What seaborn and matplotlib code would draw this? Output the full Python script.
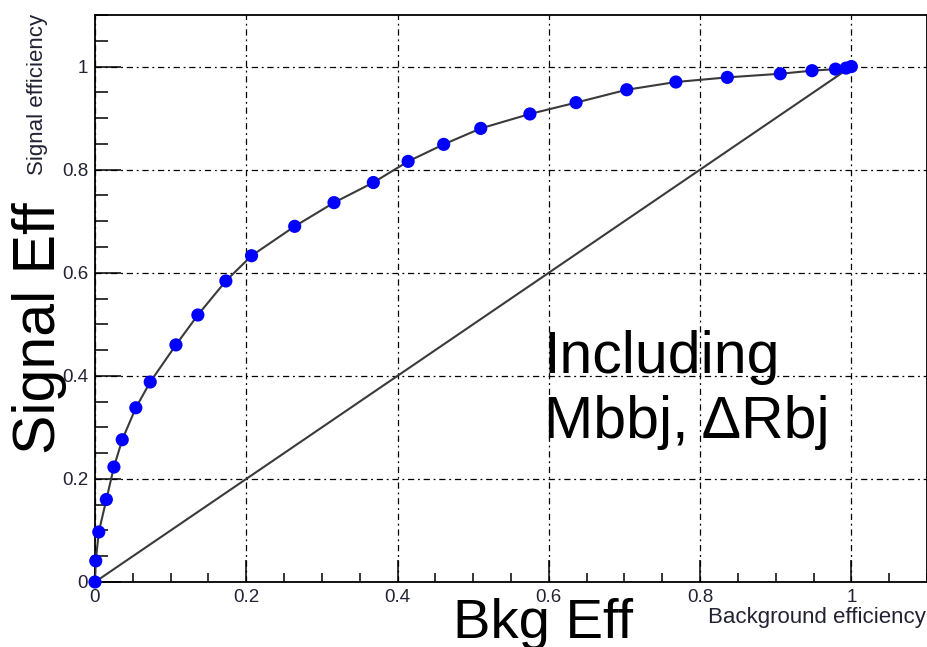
import matplotlib
matplotlib.use("Agg")
import matplotlib.pyplot as plt
from matplotlib.ticker import MultipleLocator, FuncFormatter
import seaborn as sns
import pandas as pd

# ROC points: background efficiency vs signal efficiency
bkg_eff = [0.0, 0.001, 0.005, 0.015, 0.025, 0.036, 0.054, 0.073, 0.107, 0.136,
           0.173, 0.207, 0.264, 0.316, 0.368, 0.414, 0.461, 0.510, 0.575, 0.636,
           0.703, 0.768, 0.836, 0.906, 0.948, 0.979, 0.993, 1.0]
sig_eff = [0.0, 0.041, 0.097, 0.160, 0.223, 0.276, 0.338, 0.388, 0.460, 0.518,
           0.584, 0.633, 0.690, 0.736, 0.775, 0.816, 0.849, 0.880, 0.908, 0.930,
           0.955, 0.970, 0.979, 0.986, 0.992, 0.995, 0.997, 1.0]

# random-guess reference line
diag_x = [0.0, 1.0]
diag_y = [0.0, 1.0]

major_ticks = [0.0, 0.2, 0.4, 0.6, 0.8, 1.0]

sns.set_theme(style="white")
plt.rcParams["font.family"] = ["Liberation Sans", "DejaVu Sans"]

W, H = 928, 647
fig = plt.figure(figsize=(W / 100, H / 100), dpi=100)
ax = fig.add_axes([95 / W, 65 / H, 832 / W, 567 / H])

roc = pd.DataFrame({"bkg": bkg_eff, "sig": sig_eff})
diag = pd.DataFrame({"bkg": diag_x, "sig": diag_y})

sns.lineplot(data=diag, x="bkg", y="sig", ax=ax, color="#3a3a3a", lw=1.5,
             sort=False, estimator=None, zorder=3)
sns.lineplot(data=roc, x="bkg", y="sig", ax=ax, color="#3a3a3a", lw=1.5,
             sort=False, estimator=None, zorder=3)
sns.scatterplot(data=roc, x="bkg", y="sig", ax=ax, color="#0000ff", s=90,
                edgecolor="none", linewidth=0, zorder=4, clip_on=False)

ax.set_xlim(0, 1.1)
ax.set_ylim(0, 1.1)
ax.set_xlabel("")
ax.set_ylabel("")

fmt = FuncFormatter(lambda v, p: f"{v:g}")
ax.set_xticks(major_ticks)
ax.set_yticks(major_ticks)
ax.xaxis.set_major_formatter(fmt)
ax.yaxis.set_major_formatter(fmt)
ax.xaxis.set_minor_locator(MultipleLocator(0.05))
ax.yaxis.set_minor_locator(MultipleLocator(0.05))

ax.tick_params(axis="both", which="both", direction="in", colors="black",
               labelcolor="#222233", labelsize=13.5, width=1.1)
ax.tick_params(axis="x", which="major", length=16, pad=5)
ax.tick_params(axis="x", which="minor", length=6.5)
ax.tick_params(axis="y", which="major", length=19, pad=5)
ax.tick_params(axis="y", which="minor", length=9.5)
ax.tick_params(left=True, bottom=True, top=False, right=False)
ax.tick_params(which="minor", left=True, bottom=True)

for s in ax.spines.values():
    s.set_color("black")
    s.set_linewidth(1.3)

ax.set_axisbelow(True)
ax.grid(True, which="major", color="black", lw=0.9,
        linestyle=(0, (5, 3, 1.5, 3)))
ax.grid(False, which="minor")

# small axis titles
fig.text(926 / W, 1 - 623 / H, "Background efficiency", ha="right",
         va="baseline", fontsize=16, color="#222233")
fig.text(43 / W, 1 - 14 / H, "Signal efficiency", rotation=90,
         rotation_mode="anchor", ha="right", va="baseline", fontsize=16,
         color="#222233")

# large overlay titles
fig.text(55 / W, 1 - 328 / H, "Signal Eff", rotation=90,
         rotation_mode="anchor", ha="center", va="baseline", fontsize=42.5,
         color="black", zorder=10)
fig.text(543 / W, 1 - 638 / H, "Bkg Eff", ha="center", va="baseline",
         fontsize=40.5, color="black", zorder=10)
fig.text(544 / W, 1 - 373 / H, "Including", ha="left", va="baseline",
         fontsize=42.5, color="black", zorder=10)
fig.text(544 / W, 1 - 438 / H, "Mbbj, \u0394Rbj", ha="left", va="baseline",
         fontsize=42.5, color="black", zorder=10)

fig.savefig("out.png", dpi=100)
